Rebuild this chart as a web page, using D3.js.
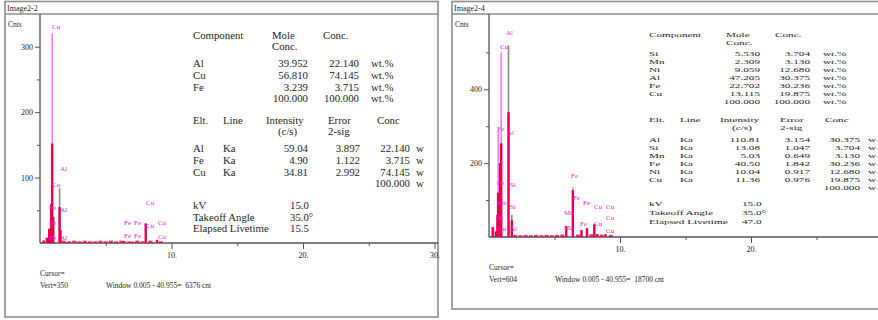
<!DOCTYPE html>
<html>
<head>
<meta charset="utf-8">
<script src="https://cdn.jsdelivr.net/npm/d3@7"></script>
<style>
  body { margin: 0; background: #fff; }
  svg { display: block; }
  text { font-family: "Liberation Serif", "Times New Roman", serif; }
</style>
</head>
<body>
<svg id="chart" width="878" height="320"></svg>
<script>
// ---------- Image2-2 (left spectrum) ----------
const leftTitle = "Image2-2";
const leftYMax = 350;
const leftYTicks = [100, 200, 300];
const leftYMinor = [50, 150, 250];
const leftXLabels = [10, 20, 30];
const leftPeakKeV  = [0.28, 0.52, 0.70, 0.85, 0.93, 1.01, 1.49, 1.56, 6.40, 7.06, 8.04, 8.90];
const leftPeakCnts = [4, 8, 22, 60, 152, 40, 55, 20, 3, 2, 30, 5];
const leftNoiseKeV  = [1.8, 2.2, 2.6, 3.0, 3.4, 3.8, 4.2, 4.6, 5.0, 5.4, 5.8, 6.2, 6.8, 7.4, 7.8, 8.4, 9.2];
const leftNoiseCnts = [2, 1, 2, 1, 2, 1, 1, 2, 1, 2, 1, 2, 1, 2, 1, 2, 1];
const leftMarkerKeV  = [0.93, 1.49];
const leftMarkerCnts = [320, 84];
const leftMarkerKind = ["pink", "grey"];
const leftLabelText = ["Cu", "Al", "Cu", "Fe", "Al", "Fe", "Fe", "Al", "Fe", "Fe", "Fe", "Fe", "Cu", "Cu", "Cu", "Cu"];
const leftLabelKeV  = [0.92, 1.54, 0.92, 0.69, 1.54, 0.69, 0.69, 1.54, 6.39, 7.15, 6.39, 7.15, 8.06, 8.06, 8.97, 8.97];
const leftLabelCnts = [327, 110, 85, 50, 47, 27, 5, 5, 27, 27, 8, 8, 58, 23, 27, 6];
const leftComponents = ["Al", "Cu", "Fe", ""];
const leftMoleConc   = ["39.952", "56.810", "3.239", "100.000"];
const leftWtConc     = ["22.140", "74.145", "3.715", "100.000"];
const leftElements   = ["Al", "Fe", "Cu", ""];
const leftLines      = ["Ka", "Ka", "Ka", ""];
const leftIntensity  = ["59.04", "4.90", "34.81", ""];
const leftError      = ["3.897", "1.122", "2.992", ""];
const leftElConc     = ["22.140", "3.715", "74.145", "100.000"];
const leftConditions = ["15.0", "35.0\u00b0", "15.5"];
const leftCursor = ["Cursor=", "Vert=350", "Window 0.005 - 40.955=  6376 cnt"];

// ---------- Image2-4 (right spectrum) ----------
const rightTitle = "Image2-4";
const rightYMax = 604;
const rightYTicks = [200, 400];
const rightYMinor = [100, 300, 500];
const rightXLabels = [10, 20];
const rightPeakKeV  = [0.28, 0.52, 0.64, 0.70, 0.85, 0.93, 1.49, 1.74, 5.90, 6.40, 7.06, 7.48, 8.04, 8.26, 8.90];
const rightPeakCnts = [27, 15, 60, 120, 200, 254, 338, 45, 30, 127, 19, 24, 35, 8, 8];
const rightNoiseKeV  = [2.0, 2.4, 2.8, 3.2, 3.6, 4.0, 4.4, 4.8, 5.2, 5.6, 6.8, 7.8, 8.6, 9.3];
const rightNoiseCnts = [3, 2, 3, 2, 3, 2, 3, 2, 3, 4, 4, 5, 4, 3];
const rightMarkerKeV  = [0.70, 0.93, 1.49, 1.74, 6.40];
const rightMarkerCnts = [290, 500, 519, 60, 135];
const rightMarkerKind = ["pink", "pink", "grey", "grey", "pink"];
const rightLabelText = ["Al", "Cu", "Fe", "Al", "Fe", "Si", "Mn", "Si", "Ni", "Al", "Cu",
                        "Fe", "Fe", "Fe", "Cu", "Cu", "Cu", "Cu", "Cu", "Mn", "Mn", "Fe"];
const rightLabelKeV  = [1.30, 0.84, 0.61, 1.37, 0.61, 1.60, 0.61, 1.60, 0.55, 1.60, 0.70,
                        6.26, 6.41, 7.18, 8.02, 8.93, 8.93, 8.02, 8.93, 5.73, 5.73, 6.95];
const rightLabelCnts = [546, 508, 286, 276, 140, 135, 86, 76, 46, 16, 16,
                        159, 100, 86, 76, 76, 46, 30, 11, 59, 19, 30];
const rightComponents = ["Si", "Mn", "Ni", "Al", "Fe", "Cu", ""];
const rightMoleConc   = ["5.530", "2.309", "9.059", "47.205", "22.702", "13.115", "100.000"];
const rightWtConc     = ["3.704", "3.130", "12.680", "30.375", "30.236", "19.875", "100.000"];
const rightElements   = ["Al", "Si", "Mn", "Fe", "Ni", "Cu", ""];
const rightLines      = ["Ka", "Ka", "Ka", "Ka", "Ka", "Ka", ""];
const rightIntensity  = ["110.81", "13.08", "5.03", "40.50", "10.04", "11.36", ""];
const rightError      = ["3.154", "1.047", "0.649", "1.842", "0.917", "0.976", ""];
const rightElConc     = ["30.375", "3.704", "3.130", "30.236", "12.680", "19.875", "100.000"];
const rightConditions = ["15.0", "35.0\u00b0", "47.0"];
const rightCursor = ["Cursor=", "Vert=604", "Window 0.005 - 40.955=  18700 cnt"];

const xTicks = [10, 20, 30];
const xMinor = [5, 15, 25];
const conditionNames = ["kV", "Takeoff Angle", "Elapsed Livetime"];

const svg = d3.select("#chart");
svg.append("rect").attr("width", 878).attr("height", 320).attr("fill", "#fff");

const PINK = "#ff7cff", LABEL = "#f020f0", RED = "#e8004c", GREY = "#8a8a8a", INK = "#1e1e1e";

function drawPanel(p) {
  const g = svg.append("g");
  // panel frame + title bar
  g.append("rect").attr("x", p.left).attr("y", 1.5).attr("width", p.right - p.left).attr("height", p.bottom - 1.5)
    .attr("fill", "none").attr("stroke", "#8c8c8c").attr("stroke-width", 1.6);
  g.append("line").attr("x1", p.left).attr("x2", p.right).attr("y1", 14).attr("y2", 14)
    .attr("stroke", "#8c8c8c").attr("stroke-width", 1.4);
  g.append("text").attr("x", p.left + 2).attr("y", 11).attr("font-size", 8).attr("fill", INK).text(p.title);
  g.append("text").attr("x", p.left + 3).attr("y", 27).attr("font-size", 7.5).attr("fill", INK).text("Cnts");

  const x = d3.scaleLinear().domain([0, 30]).range([p.x0, p.x0 + 30 * p.kx]);
  const y = d3.scaleLinear().domain([0, p.yMax]).range([p.y0, 14]);

  // axes
  g.append("g").attr("transform", `translate(${p.x0},0)`)
    .call(d3.axisLeft(y).tickValues(p.yTicks).tickSize(5).tickPadding(2).tickFormat(d3.format("d")));
  g.append("g").attr("transform", `translate(${p.x0},0)`)
    .call(d3.axisLeft(y).tickValues(p.yMinor).tickSize(3).tickFormat(""));
  g.append("g").attr("transform", `translate(0,${p.y0})`)
    .call(d3.axisBottom(x).tickValues(xTicks).tickSize(6).tickPadding(3)
      .tickFormat(d => p.xLabels.includes(d) ? d + "." : ""));
  g.append("g").attr("transform", `translate(0,${p.y0})`)
    .call(d3.axisBottom(x).tickValues(xMinor).tickSize(3).tickFormat(""));
  g.selectAll(".domain").remove();
  g.selectAll(".tick line").attr("stroke", "#555");
  g.selectAll(".tick text").attr("font-size", 8).attr("fill", INK)
    .style("font-family", "'Liberation Serif', serif");
  g.append("line").attr("x1", p.x0).attr("x2", p.x0).attr("y1", 14).attr("y2", p.y0)
    .attr("stroke", "#555").attr("stroke-width", 1.3);
  g.append("line").attr("x1", p.x0).attr("x2", p.right).attr("y1", p.y0).attr("y2", p.y0)
    .attr("stroke", "#555").attr("stroke-width", 1.3);

  // element marker lines
  g.selectAll(".marker").data(p.markerKeV.map((k, i) => ({ k, c: p.markerCnts[i], kind: p.markerKind[i] })))
    .enter().append("line")
    .attr("x1", d => x(d.k)).attr("x2", d => x(d.k))
    .attr("y1", p.y0).attr("y2", d => y(d.c))
    .attr("stroke", d => d.kind === "pink" ? PINK : GREY).attr("stroke-width", 1.6);

  // background counts
  g.selectAll(".noise").data(p.noiseKeV.map((k, i) => ({ k, c: p.noiseCnts[i] })))
    .enter().append("rect")
    .attr("x", d => x(d.k) - 2).attr("width", 4)
    .attr("y", d => y(d.c) - 1).attr("height", d => p.y0 - y(d.c) + 1)
    .attr("fill", RED).attr("opacity", 0.8);

  // spectrum peaks
  g.selectAll(".peak").data(p.peakKeV.map((k, i) => ({ k, c: p.peakCnts[i] })))
    .enter().append("rect")
    .attr("x", d => x(d.k) - 1.2).attr("width", 2.4)
    .attr("y", d => y(d.c)).attr("height", d => p.y0 - y(d.c))
    .attr("fill", RED);

  // marker labels
  g.selectAll(".lbl").data(p.labelText.map((t, i) => ({ t, k: p.labelKeV[i], c: p.labelCnts[i] })))
    .enter().append("text")
    .attr("x", d => x(d.k)).attr("y", d => y(d.c))
    .attr("font-size", 7).attr("fill", LABEL).text(d => d.t);

  // cursor / window text
  g.append("text").attr("x", p.x0).attr("y", p.y0 + 33).attr("font-size", 7.5).attr("fill", INK).text(p.cursor[0]);
  g.append("text").attr("x", p.x0).attr("y", p.y0 + 45).attr("font-size", 7.5).attr("fill", INK).text(p.cursor[1]);
  g.append("text").attr("x", p.x0 + 66).attr("y", p.y0 + 45).attr("font-size", 7.5).attr("fill", INK)
    .attr("xml:space", "preserve").text(p.cursor[2]);

  // quantification table (right image is stretched sideways, hence sx)
  const t = p.table;
  const tg = g.append("g").attr("font-size", t.fs).attr("fill", INK);
  const put = (xx, yy, s, anchor) => tg.append("text")
    .attr("transform", `translate(${xx},${yy}) scale(${t.sx},1)`)
    .attr("text-anchor", anchor || "start").text(s);
  put(t.c0, t.h1, "Component");
  put(t.cMole, t.h1, "Mole");
  put(t.cMole, t.h1 + t.hGap, "Conc.");
  put(t.cConcH, t.h1, "Conc.");
  p.components.forEach((s, i) => {
    const yy = t.r1 + i * t.rs;
    put(t.c0, yy, s);
    put(t.n1, yy, p.moleConc[i], "end");
    put(t.n2, yy, p.wtConc[i], "end");
    put(t.wt, yy, "wt.%");
  });
  put(t.c0, t.h2, "Elt.");
  put(t.cLine, t.h2, "Line");
  put(t.cInt, t.h2, "Intensity");
  put(t.cInt + t.csOff, t.h2 + t.hGap, "(c/s)");
  put(t.cErr, t.h2, "Error");
  put(t.cErr, t.h2 + t.hGap, "2-sig");
  put(t.cConc, t.h2, "Conc");
  p.elements.forEach((s, i) => {
    const yy = t.r2 + i * t.rs;
    put(t.c0, yy, s);
    put(t.cLine, yy, p.lines[i]);
    put(t.n1, yy, p.intensity[i], "end");
    put(t.e2, yy, p.error[i], "end");
    put(t.e3, yy, p.elConc[i], "end");
    put(t.w, yy, "w");
  });
  conditionNames.forEach((s, i) => {
    put(t.c0, t.k1 + i * t.ks, s);
    put(t.kv, t.k1 + i * t.ks, p.conditions[i]);
  });
}

drawPanel({
  title: leftTitle, left: 5, right: 438, bottom: 317,
  x0: 40, kx: 13.15, y0: 243, yMax: leftYMax, yTicks: leftYTicks, yMinor: leftYMinor, xLabels: leftXLabels,
  peakKeV: leftPeakKeV, peakCnts: leftPeakCnts, noiseKeV: leftNoiseKeV, noiseCnts: leftNoiseCnts,
  markerKeV: leftMarkerKeV, markerCnts: leftMarkerCnts, markerKind: leftMarkerKind,
  labelText: leftLabelText, labelKeV: leftLabelKeV, labelCnts: leftLabelCnts,
  cursor: leftCursor,
  components: leftComponents, moleConc: leftMoleConc, wtConc: leftWtConc,
  elements: leftElements, lines: leftLines, intensity: leftIntensity, error: leftError, elConc: leftElConc,
  conditions: leftConditions,
  table: { fs: 10, sx: 1.08, c0: 193, cMole: 272, cConcH: 323, h1: 39, hGap: 10.5, r1: 67, rs: 11.8,
           n1: 308, n2: 359, wt: 371, h2: 124, cLine: 223, cInt: 266, csOff: 12, cErr: 328, cConc: 377,
           r2: 152, e2: 360, e3: 410, w: 416, k1: 209, ks: 11.5, kv: 290 }
});

drawPanel({
  title: rightTitle, left: 452, right: 880, bottom: 309,
  x0: 489, kx: 13.1, y0: 237, yMax: rightYMax, yTicks: rightYTicks, yMinor: rightYMinor, xLabels: rightXLabels,
  peakKeV: rightPeakKeV, peakCnts: rightPeakCnts, noiseKeV: rightNoiseKeV, noiseCnts: rightNoiseCnts,
  markerKeV: rightMarkerKeV, markerCnts: rightMarkerCnts, markerKind: rightMarkerKind,
  labelText: rightLabelText, labelKeV: rightLabelKeV, labelCnts: rightLabelCnts,
  cursor: rightCursor,
  components: rightComponents, moleConc: rightMoleConc, wtConc: rightWtConc,
  elements: rightElements, lines: rightLines, intensity: rightIntensity, error: rightError, elConc: rightElConc,
  conditions: rightConditions,
  table: { fs: 7, sx: 1.6, c0: 649, cMole: 726, cConcH: 775, h1: 37, hGap: 8, r1: 56, rs: 8,
           n1: 760, n2: 810, wt: 823, h2: 122, cLine: 680, cInt: 720, csOff: 12, cErr: 780, cConc: 825,
           r2: 142, e2: 810, e3: 860, w: 868, k1: 206, ks: 9, kv: 742 }
});
</script>
</body>
</html>
